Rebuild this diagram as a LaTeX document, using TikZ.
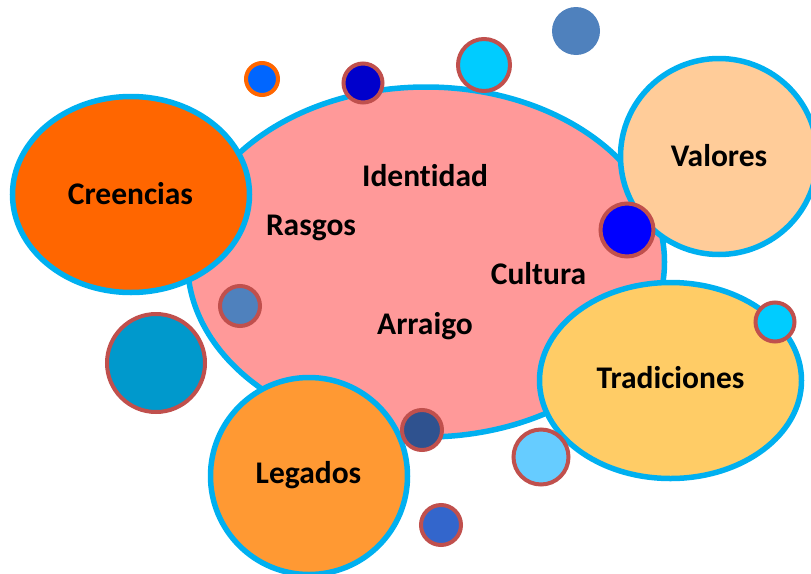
\documentclass[tikz,border=0pt]{standalone}
\usepackage{fontspec}
\setmainfont{Carlito}[Ligatures=NoCommon]
\usetikzlibrary{shapes.geometric}
\definecolor{celeste}{HTML}{00B0F0}
\definecolor{rojizo}{HTML}{C0504D}
\definecolor{rosa}{HTML}{FF9999}
\definecolor{naranja}{HTML}{FF6600}
\definecolor{durazno}{HTML}{FFCC99}
\definecolor{amarillo}{HTML}{FFCC66}
\definecolor{mandarina}{HTML}{FF9933}
\definecolor{azulvivo}{HTML}{0066FF}
\definecolor{marino}{HTML}{0000CC}
\definecolor{cian}{HTML}{00CCFF}
\definecolor{acero}{HTML}{4F81BD}
\definecolor{azul}{HTML}{0000FF}
\definecolor{turquesa}{HTML}{0099CC}
\definecolor{oscuro}{HTML}{2F528F}
\definecolor{cielo}{HTML}{66CCFF}
\definecolor{cobalto}{HTML}{3366CC}
\begin{document}
\begin{tikzpicture}[x=1pt,y=-1pt,
  burbuja/.style={ellipse,draw=celeste,line width=5.5pt,inner sep=0pt},
  palabra/.style={font=\fontsize{31.5}{36}\selectfont\bfseries,anchor=base},
  punto/.style={draw=rojizo,line width=4pt}]
\useasboundingbox (0,0) rectangle (811,573);
% Centro
\node[burbuja,fill=rosa,minimum width=477pt,minimum height=350pt] (centro) at (426,262) {};
\node[palabra] (identidad) at (425,186) {Identidad};
\node[palabra] (rasgos) at (311,235) {Rasgos};
\node[palabra] (cultura) at (538.5,284) {Cultura};
\node[palabra] (arraigo) at (425,334) {Arraigo};
% Alrededor
\node[burbuja,fill=naranja,minimum width=237pt,minimum height=196pt] (creencias) at (131,194.5) {};
\node[burbuja,fill=durazno,minimum width=197pt,minimum height=196pt] (valores) at (719,156.5) {};
\node[burbuja,fill=amarillo,minimum width=262pt,minimum height=196pt] (tradiciones) at (670.5,380.5) {};
\node[burbuja,fill=mandarina,minimum width=197pt,minimum height=197pt] (legados) at (309,476) {};
\node[palabra] (creencias-txt) at (130.5,204) {Creencias};
\node[palabra] (valores-txt) at (719,166) {Valores};
\node[palabra] (tradiciones-txt) at (670.5,388) {Tradiciones};
\node[palabra] (legados-txt) at (308.5,483) {Legados};
% Puntos
\filldraw[fill=azulvivo,draw=naranja,line width=4pt] (262,79) circle (16);
\filldraw[punto,fill=marino] (363,83) circle (19.5);
\filldraw[punto,fill=cian] (484,65) circle (26);
\fill[acero] (576,31) circle (24);
\filldraw[punto,fill=azul] (627,230) circle (26.5);
\filldraw[punto,fill=cian] (775,322) circle (19.5);
\filldraw[punto,fill=acero] (240,306) circle (20);
\filldraw[punto,fill=turquesa] (156,363) circle (49);
\filldraw[punto,fill=oscuro] (422,430) circle (20);
\filldraw[punto,fill=cielo] (541,457) circle (27.5);
\filldraw[punto,fill=cobalto] (441,525) circle (20);
\end{tikzpicture}
\end{document}
